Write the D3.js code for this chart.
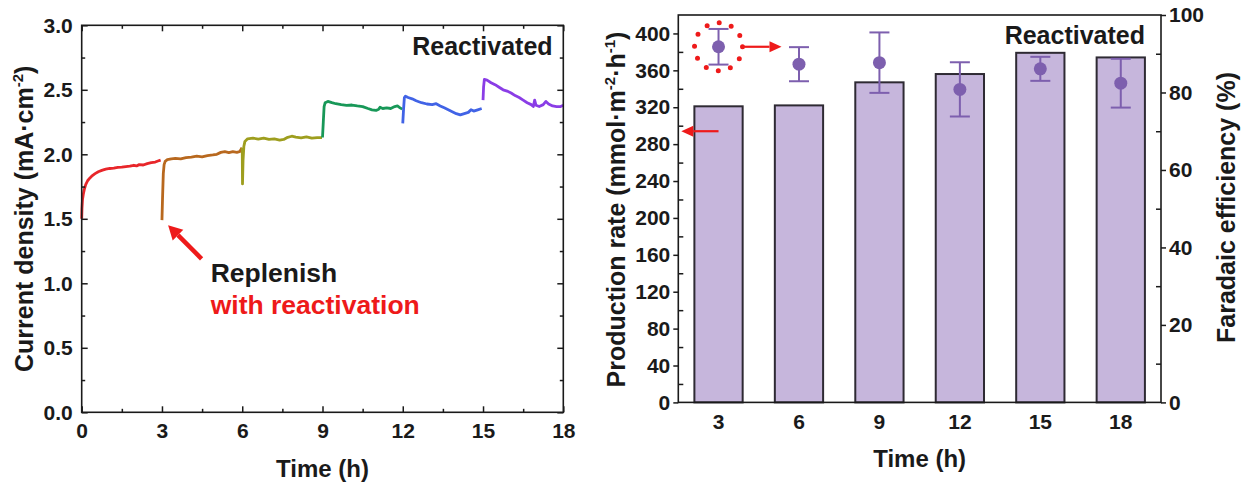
<!DOCTYPE html>
<html>
<head>
<meta charset="utf-8">
<script src="https://cdn.jsdelivr.net/npm/d3@7"></script>
<style>
  body { margin: 0; background: #fff; }
  svg { display: block; font-family: "Liberation Sans", Arial, sans-serif; font-weight: bold; }
</style>
</head>
<body>
<svg id="chart" width="1247" height="488"></svg>
<script>
// ---- left panel: current density vs time, one trace per 3 h run ----
const run1 = [[0,1.50],[0.01,1.58],[0.03,1.65],[0.06,1.69],[0.1,1.73],[0.15,1.765],[0.22,1.795],[0.3,1.815],[0.4,1.835],[0.5,1.85],[0.62,1.865],[0.75,1.875],[0.9,1.885],[1.05,1.89],[1.2,1.893],[1.35,1.898],[1.5,1.90],[1.65,1.905],[1.8,1.908],[1.95,1.915],[2.05,1.91],[2.15,1.92],[2.3,1.917],[2.45,1.928],[2.6,1.935],[2.75,1.94],[2.85,1.948],[2.95,1.955]];
const run2 = [[3.0,1.49],[3.02,1.65],[3.05,1.85],[3.08,1.92],[3.12,1.945],[3.2,1.958],[3.35,1.965],[3.5,1.968],[3.7,1.965],[3.9,1.975],[4.1,1.978],[4.3,1.985],[4.5,1.98],[4.7,1.99],[4.9,1.995],[5.05,2.0],[5.2,2.015],[5.35,2.02],[5.5,2.013],[5.65,2.02],[5.8,2.015],[5.9,2.02],[5.96,2.04],[5.99,2.05]];
const run3 = [[6.0,2.05],[6.01,1.77],[6.03,1.95],[6.06,2.06],[6.1,2.10],[6.2,2.12],[6.4,2.125],[6.6,2.118],[6.8,2.125],[7.0,2.115],[7.2,2.12],[7.4,2.11],[7.55,2.115],[7.7,2.132],[7.85,2.14],[8.0,2.133],[8.2,2.128],[8.4,2.135],[8.6,2.125],[8.8,2.13],[8.98,2.13]];
const run4 = [[9.0,2.13],[9.03,2.25],[9.06,2.37],[9.1,2.40],[9.2,2.41],[9.35,2.40],[9.5,2.392],[9.7,2.385],[9.9,2.38],[10.1,2.382],[10.3,2.375],[10.5,2.37],[10.7,2.355],[10.85,2.345],[11.0,2.34],[11.1,2.35],[11.15,2.365],[11.25,2.355],[11.4,2.36],[11.55,2.355],[11.7,2.37],[11.8,2.375],[11.9,2.36],[11.98,2.35]];
const run5 = [[12.0,2.24],[12.03,2.35],[12.06,2.44],[12.1,2.45],[12.2,2.44],[12.35,2.43],[12.5,2.415],[12.7,2.40],[12.9,2.39],[13.1,2.385],[13.25,2.392],[13.4,2.375],[13.55,2.36],[13.7,2.345],[13.85,2.33],[14.0,2.315],[14.15,2.305],[14.3,2.315],[14.45,2.325],[14.55,2.345],[14.65,2.335],[14.8,2.345],[14.95,2.355]];
const run6 = [[15.0,2.42],[15.02,2.52],[15.05,2.58],[15.15,2.575],[15.3,2.555],[15.45,2.54],[15.6,2.52],[15.75,2.50],[15.9,2.49],[16.05,2.475],[16.2,2.455],[16.35,2.44],[16.5,2.42],[16.65,2.40],[16.8,2.385],[16.88,2.37],[16.93,2.42],[16.98,2.38],[17.1,2.37],[17.25,2.385],[17.35,2.41],[17.45,2.39],[17.6,2.375],[17.75,2.37],[17.9,2.37],[18.0,2.38]];
const runColors = ['#e8262a', '#b8681e', '#9e9e1e', '#189858', '#4163e6', '#8a3de6'];

const timeTicks = [0, 3, 6, 9, 12, 15, 18];
const timeMinor = [1.5, 4.5, 7.5, 10.5, 13.5, 16.5];
const densityTicks = [0, 0.5, 1.0, 1.5, 2.0, 2.5, 3.0];
const densityMinor = [0.25, 0.75, 1.25, 1.75, 2.25, 2.75];

// ---- right panel: production rate (bars) and faradaic efficiency (points) ----
const hours = ['3', '6', '9', '12', '15', '18'];
const rate = [321, 322, 347, 356, 379, 374];
const fe = [91.8, 87.3, 87.7, 80.8, 86.1, 82.4];
const feErr = [4.6, 4.4, 7.8, 7.0, 3.1, 6.3];
const rateTicks = [0, 40, 80, 120, 160, 200, 240, 280, 320, 360, 400];
const rateMinor = [20, 60, 100, 140, 180, 220, 260, 300, 340, 380];
const feTicks = [0, 20, 40, 60, 80, 100];
const feMinor = [10, 30, 50, 70, 90];

const FONT = '"Liberation Sans", Arial, sans-serif';
const RED = '#ee1a1a';
const INK = '#1a1a1a';
const svg = d3.select('#chart');

function styleAxis(g, size) {
  g.attr('font-family', FONT).attr('font-size', size).attr('color', INK);
  g.selectAll('line').attr('stroke-width', 1.5);
  g.select('.domain').remove();
}

function arrow(g, x0, y0, x1, y1, w, headLen, headW) {
  const a = Math.atan2(y1 - y0, x1 - x0);
  const bx = x1 - headLen * Math.cos(a), by = y1 - headLen * Math.sin(a);
  g.append('line').attr('x1', x0).attr('y1', y0).attr('x2', bx).attr('y2', by)
    .attr('stroke', RED).attr('stroke-width', w);
  const px = Math.sin(a) * headW / 2, py = -Math.cos(a) * headW / 2;
  g.append('polygon')
    .attr('points', `${x1},${y1} ${bx + px},${by + py} ${bx - px},${by - py}`)
    .attr('fill', RED);
}

// ================= left panel =================
const L = { left: 81.7, right: 563.3, top: 25.3, bottom: 412.3 };
const x1 = d3.scaleLinear().domain([0, 18]).range([L.left, L.right]);
const y1 = d3.scaleLinear().domain([0, 3]).range([L.bottom, L.top]);

const left = svg.append('g');
const line = d3.line().x(d => x1(d[0])).y(d => y1(d[1]));

left.append('g').selectAll('path')
  .data([run1, run2, run3, run4, run5, run6])
  .join('path')
  .attr('d', line)
  .attr('fill', 'none')
  .attr('stroke', (d, i) => runColors[i])
  .attr('stroke-width', 2.8)
  .attr('stroke-linejoin', 'round');

left.append('g').attr('transform', `translate(0,${L.bottom})`)
  .call(d3.axisBottom(x1).tickValues(timeTicks).tickFormat(d3.format('d'))
    .tickSizeInner(-6).tickSizeOuter(0).tickPadding(11))
  .call(g => styleAxis(g, 21));
left.append('g').attr('transform', `translate(0,${L.bottom})`)
  .call(d3.axisBottom(x1).tickValues(timeMinor).tickFormat('').tickSize(-3.5))
  .call(g => styleAxis(g, 21));
left.append('g').attr('transform', `translate(0,${L.top})`)
  .call(d3.axisTop(x1).tickValues(timeTicks).tickFormat('').tickSize(-6))
  .call(g => styleAxis(g, 21));
left.append('g').attr('transform', `translate(0,${L.top})`)
  .call(d3.axisTop(x1).tickValues(timeMinor).tickFormat('').tickSize(-3.5))
  .call(g => styleAxis(g, 21));
left.append('g').attr('transform', `translate(${L.left},0)`)
  .call(d3.axisLeft(y1).tickValues(densityTicks).tickFormat(d3.format('.1f'))
    .tickSizeInner(-6).tickSizeOuter(0).tickPadding(9))
  .call(g => styleAxis(g, 21));
left.append('g').attr('transform', `translate(${L.left},0)`)
  .call(d3.axisLeft(y1).tickValues(densityMinor).tickFormat('').tickSize(-3.5))
  .call(g => styleAxis(g, 21));
left.append('g').attr('transform', `translate(${L.right},0)`)
  .call(d3.axisRight(y1).tickValues(densityTicks).tickFormat('').tickSize(-6))
  .call(g => styleAxis(g, 21));
left.append('g').attr('transform', `translate(${L.right},0)`)
  .call(d3.axisRight(y1).tickValues(densityMinor).tickFormat('').tickSize(-3.5))
  .call(g => styleAxis(g, 21));

left.append('rect')
  .attr('x', L.left).attr('y', L.top)
  .attr('width', L.right - L.left).attr('height', L.bottom - L.top)
  .attr('fill', 'none').attr('stroke', INK).attr('stroke-width', 1.6);

left.append('text')
  .attr('x', x1(17.6)).attr('y', y1(2.77))
  .attr('text-anchor', 'end').attr('font-size', 25).attr('fill', INK)
  .text('Reactivated');

arrow(left, x1(4.48), y1(1.19), x1(3.23), y1(1.45), 4.5, 14, 15);
left.append('text')
  .attr('x', x1(4.82)).attr('y', y1(1.01))
  .attr('font-size', 26.5).attr('fill', INK)
  .text('Replenish');
left.append('text')
  .attr('x', x1(4.82)).attr('y', y1(0.76))
  .attr('font-size', 26.5).attr('fill', RED)
  .text('with reactivation');

left.append('text')
  .attr('x', (L.left + L.right) / 2).attr('y', 477)
  .attr('text-anchor', 'middle').attr('font-size', 24).attr('fill', INK)
  .text('Time (h)');

const lt = left.append('text')
  .attr('transform', `translate(33,${(L.top + L.bottom) / 2}) rotate(-90)`)
  .attr('text-anchor', 'middle').attr('font-size', 25).attr('fill', INK);
lt.append('tspan').text('Current density (mA·cm');
lt.append('tspan').attr('font-size', 15).attr('dy', -10).text('-2');
lt.append('tspan').attr('dy', 10).text(')');

// ================= right panel =================
const R = { left: 678.3, right: 1161, top: 15, bottom: 402.4 };
const xb = d3.scaleBand().domain(hours).range([R.left, R.right])
  .paddingInner(0.4).paddingOuter(0.2);
const yr = d3.scaleLinear().domain([0, 420]).range([R.bottom, R.top]);
const yfe = d3.scaleLinear().domain([0, 100]).range([R.bottom, R.top]);

const right = svg.append('g');

right.append('g').selectAll('rect')
  .data(hours)
  .join('rect')
  .attr('x', d => xb(d))
  .attr('y', (d, i) => yr(rate[i]))
  .attr('width', xb.bandwidth())
  .attr('height', (d, i) => R.bottom - yr(rate[i]))
  .attr('fill', '#c6b6dc')
  .attr('stroke', '#2e2a33')
  .attr('stroke-width', 2);

right.append('g').attr('transform', `translate(${R.left},0)`)
  .call(d3.axisLeft(yr).tickValues(rateTicks).tickSizeInner(5).tickSizeOuter(0).tickPadding(3))
  .call(g => styleAxis(g, 21));
right.append('g').attr('transform', `translate(${R.left},0)`)
  .call(d3.axisLeft(yr).tickValues(rateMinor).tickFormat('').tickSize(-5))
  .call(g => styleAxis(g, 21));
right.append('g').attr('transform', `translate(${R.right},0)`)
  .call(d3.axisRight(yfe).tickValues(feTicks).tickSizeInner(5).tickSizeOuter(0).tickPadding(3))
  .call(g => styleAxis(g, 21));
right.append('g').attr('transform', `translate(${R.right},0)`)
  .call(d3.axisRight(yfe).tickValues(feMinor).tickFormat('').tickSize(-5))
  .call(g => styleAxis(g, 21));
right.append('g').attr('transform', `translate(0,${R.bottom})`)
  .call(d3.axisBottom(xb).tickSize(0).tickPadding(11.5))
  .call(g => styleAxis(g, 21));

right.append('rect')
  .attr('x', R.left).attr('y', R.top)
  .attr('width', R.right - R.left).attr('height', R.bottom - R.top)
  .attr('fill', 'none').attr('stroke', INK).attr('stroke-width', 1.6);

// faradaic efficiency with error bars
const PURPLE = '#7d5fae';
const cx = d => xb(d) + xb.bandwidth() / 2;
const fePts = right.append('g').selectAll('g').data(hours).join('g');
fePts.append('line')
  .attr('x1', cx).attr('x2', cx)
  .attr('y1', (d, i) => yfe(fe[i] + feErr[i]))
  .attr('y2', (d, i) => yfe(fe[i] - feErr[i]))
  .attr('stroke', PURPLE).attr('stroke-width', 2);
[1, -1].forEach(s => {
  fePts.append('line')
    .attr('x1', d => cx(d) - 10).attr('x2', d => cx(d) + 10)
    .attr('y1', (d, i) => yfe(fe[i] + s * feErr[i]))
    .attr('y2', (d, i) => yfe(fe[i] + s * feErr[i]))
    .attr('stroke', PURPLE).attr('stroke-width', 2);
});
fePts.append('circle')
  .attr('cx', cx)
  .attr('cy', (d, i) => yfe(fe[i]))
  .attr('r', 6.5)
  .attr('fill', PURPLE);

// highlight ring and axis arrows
const c0x = cx(hours[0]), c0y = yfe(fe[0]);
right.append('circle')
  .attr('cx', c0x).attr('cy', c0y).attr('r', 24)
  .attr('fill', 'none').attr('stroke', RED).attr('stroke-width', 5)
  .attr('stroke-linecap', 'round').attr('stroke-dasharray', `0 ${2 * Math.PI * 24 / 12}`);
arrow(right, c0x + 26, c0y, c0x + 63, c0y, 2.2, 12, 11);
arrow(right, c0x, yr(294), R.left + 3, yr(294), 2.2, 12, 11);

right.append('text')
  .attr('x', 1145).attr('y', 43.5)
  .attr('text-anchor', 'end').attr('font-size', 25).attr('fill', INK)
  .text('Reactivated');

right.append('text')
  .attr('x', (R.left + R.right) / 2).attr('y', 467)
  .attr('text-anchor', 'middle').attr('font-size', 24).attr('fill', INK)
  .text('Time (h)');

const rt = right.append('text')
  .attr('transform', `translate(625,209.5) rotate(-90)`)
  .attr('text-anchor', 'middle').attr('font-size', 25).attr('fill', INK);
rt.append('tspan').text('Production rate (mmol·m');
rt.append('tspan').attr('font-size', 15).attr('dy', -10).text('-2');
rt.append('tspan').attr('dy', 10).text('·h');
rt.append('tspan').attr('font-size', 15).attr('dy', -10).text('-1');
rt.append('tspan').attr('dy', 10).text(')');

right.append('text')
  .attr('transform', `translate(1235,207.5) rotate(-90)`)
  .attr('text-anchor', 'middle').attr('font-size', 25).attr('fill', INK)
  .text('Faradaic efficiency (%)');
</script>
</body>
</html>
